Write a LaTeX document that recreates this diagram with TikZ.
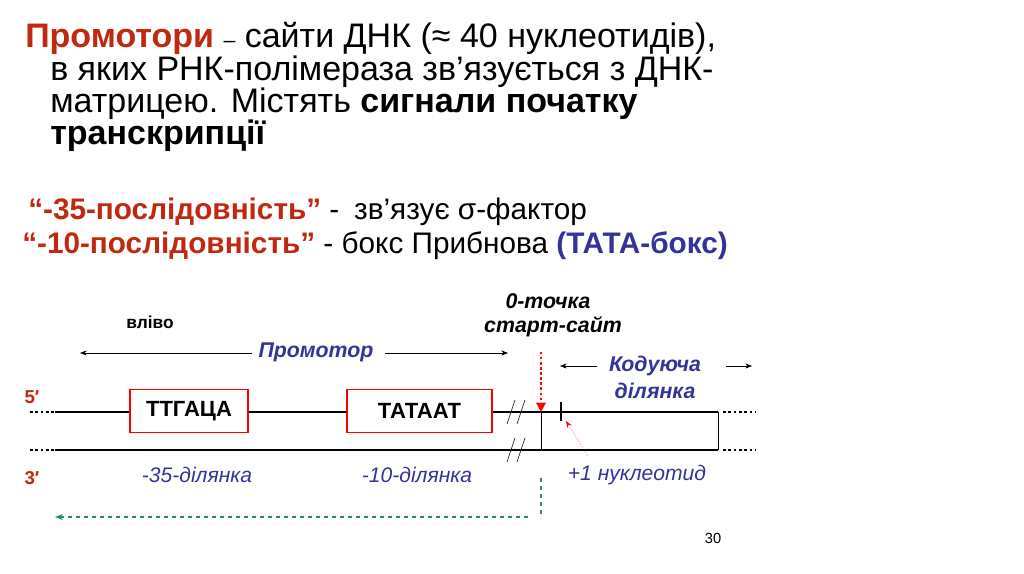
\documentclass[tikz,border=0pt]{standalone}
\usepackage{fontspec}
\setmainfont{Liberation Sans}
\usetikzlibrary{arrows.meta}
\definecolor{tred}{HTML}{C0290F}
\definecolor{tblue}{HTML}{333399}
\definecolor{tteal}{HTML}{2A8A78}
\begin{document}
\begin{tikzpicture}[x=0.75pt,y=-0.75pt,
  big/.style={anchor=west,inner sep=0,font=\fontsize{25.5}{28}\selectfont},
  mid/.style={anchor=west,inner sep=0,font=\fontsize{22.3}{26}\selectfont},
  lab/.style={inner sep=0,font=\fontsize{16}{18}\selectfont},
  blab/.style={lab,text=tblue,font=\fontsize{15.8}{18}\selectfont\itshape},
  bbi/.style={lab,text=tblue,font=\fontsize{16}{18}\selectfont\bfseries\itshape},
  strand/.style={line width=2.2pt},
  dots/.style={line width=2.2pt,dash pattern=on 2pt off 2pt},
  box/.style={draw=red,fill=white,thick,minimum width=118*0.75pt,minimum height=43*0.75pt,font=\fontsize{16.5}{18}\selectfont\bfseries},
  thinarr/.style={-{Stealth[length=5pt]},thin}]
\useasboundingbox (0,0) rectangle (1024,574);
\node[big] (l1) at (25,38) {\textcolor{tred}{\bfseries Промотори} {\fontsize{16}{18}\selectfont –} сайти ДНК (≈ 40 нуклеотидів),};
\node[big] (l2) at (50,72) {в яких РНК-полімераза зв’язується з ДНК-};
\node[big] (l3) at (50,104) {матрицею. Містять {\bfseries сигнали початку}};
\node[big] (l4) at (50,136) {\bfseries транскрипції};
\node[mid] (l5) at (28,212) {\textcolor{tred}{\bfseries “-35-послідовність”} -\enspace зв’язує σ-фактор};
\node[mid] (l6) at (22,246) {\textcolor{tred}{\bfseries “-10-послідовність”} - бокс Прибнова \textcolor{tblue}{\bfseries (ТАТА-бокс)}};
% strands
\coordinate (ts) at (55,412); \coordinate (te) at (718,412);
\coordinate (bs) at (55,450); \coordinate (be) at (718,450);
\draw[strand] (ts) -- (te);
\draw[strand] (bs) -- (be);
\draw[dots] (30,412) -- (ts); \draw[dots] (723,412) -- (756,412);
\draw[dots] (30,450) -- (bs); \draw[dots] (723,450) -- (756,450);
\node[lab,text=tred,font=\fontsize{14}{15}\selectfont\bfseries] (p5) at (32,397) {5′};
\node[lab,text=tred,font=\fontsize{14}{15}\selectfont\bfseries] (p3) at (32,478) {3′};
\node[box] (b1) at (189,411) {ТТГАЦА};
\node[box,minimum width=145*0.75pt] (b2) at (419.5,411) {ТАТААТ};
% slashes
\draw[thin] (507,424) -- (515,400); \draw[thin] (517,424) -- (525,400);
\draw[thin] (507,462) -- (515,438); \draw[thin] (517,462) -- (525,438);
\coordinate (z) at (541,412);
\draw[thin] (z) -- (541,450);
\draw[thin] (te) -- (be);
\draw[line width=2pt] (561,402) -- (561,421);
\draw[red,line width=1.8pt,dotted,-{Triangle[length=7pt,width=7pt]}] (541,352) -- (z);
\node[lab,font=\fontsize{16}{18}\selectfont\bfseries\itshape] (zt) at (548,301) {0-точка};
\node[lab,font=\fontsize{16}{18}\selectfont\bfseries\itshape] (st) at (553,327) {старт-сайт};
\node[lab,font=\fontsize{13}{14}\selectfont\bfseries] (vl) at (150,322) {вліво};
\node[bbi] (pr) at (316,352) {Промотор};
\draw[thinarr] (252,353) -- (80,353);
\draw[thinarr] (385,353) -- (508,353);
\node[bbi] (kd) at (655,366) {Кодуюча};
\node[bbi] (dl) at (655,391) {ділянка};
\draw[thinarr] (597,366) -- (560,366);
\draw[thinarr] (726,366) -- (752,366);
\node[blab] (d35) at (197,475) {-35-ділянка};
\node[blab] (d10) at (417,475) {-10-ділянка};
\node[blab] (n1) at (637,475) {+1 нуклеотид};
\coordinate (n1s) at (588,456);
\draw[red,densely dotted,-{Stealth[length=5pt]}] (n1s) -- (566,421);
\draw[tteal,thick,dashed] (541,478) -- (541,518);
\draw[tteal,thick,dashed,-{Stealth[length=6pt]}] (528,517) -- (55,517);
\node[lab,font=\fontsize{11}{13}\selectfont] (pg) at (713,538) {30};
\end{tikzpicture}
\end{document}
